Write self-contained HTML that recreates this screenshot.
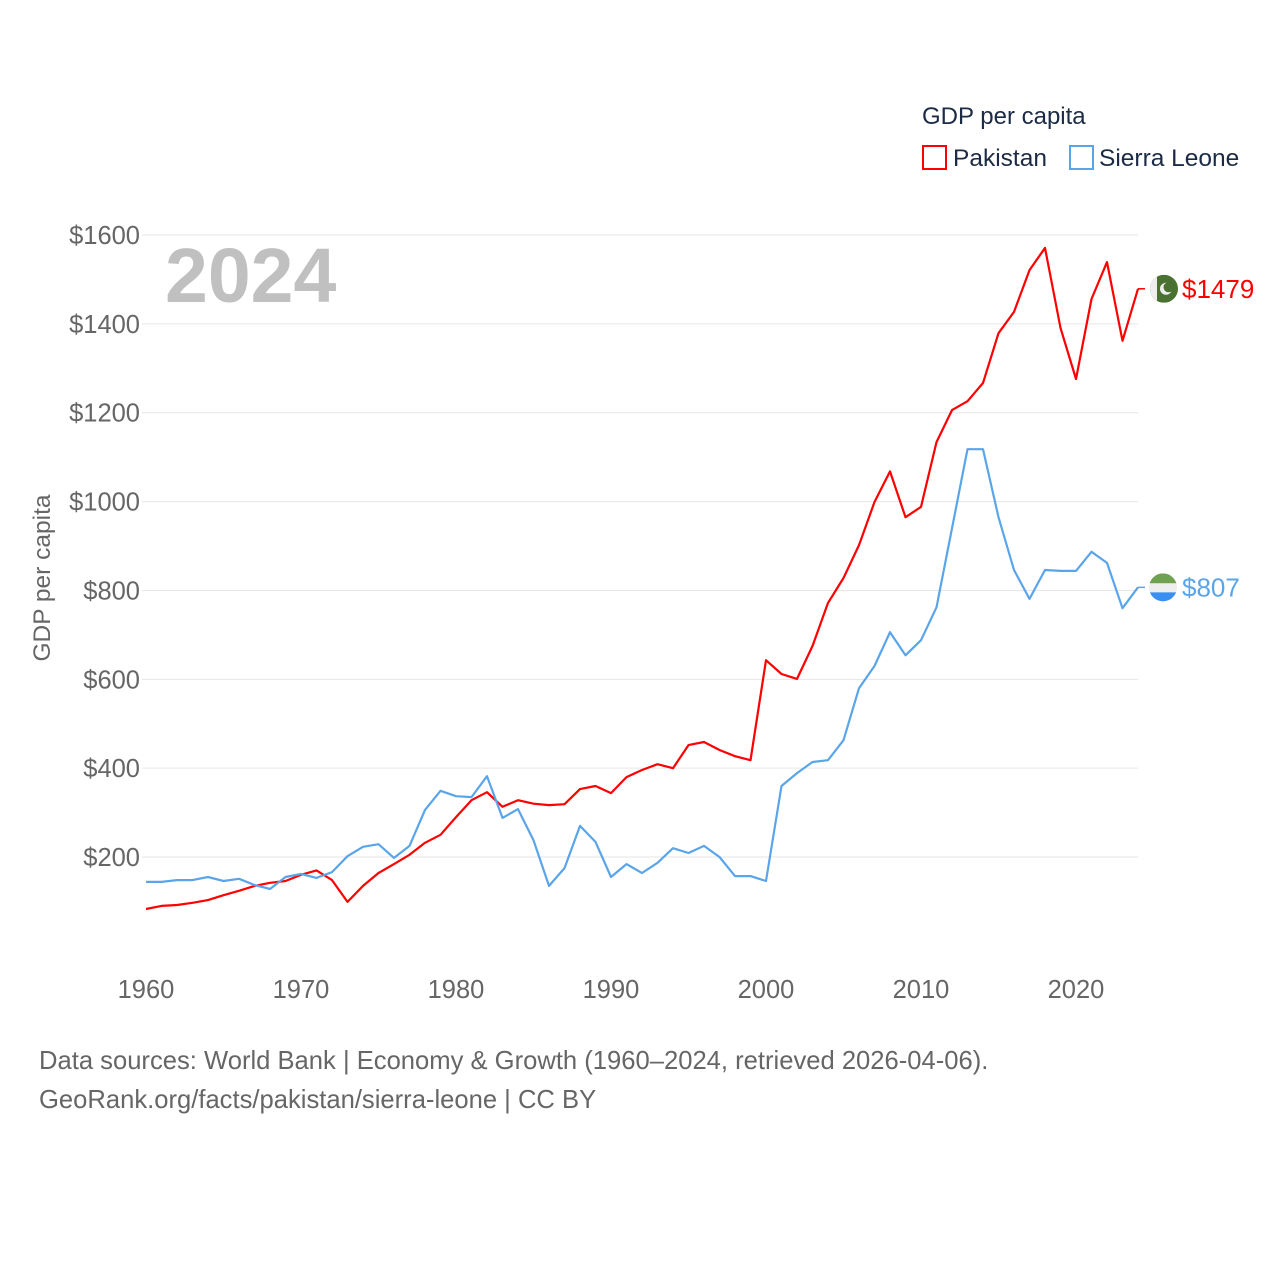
<!DOCTYPE html>
<html><head><meta charset="utf-8"><style>
body{margin:0;background:#fff;font-family:"Liberation Sans",sans-serif;}
svg text{font-family:"Liberation Sans",sans-serif;}
</style></head><body>
<svg id="chart" width="1280" height="1280" viewBox="0 0 1280 1280" xmlns="http://www.w3.org/2000/svg">
<rect width="1280" height="1280" fill="#fff"/>
<g id="grid"></g>
<g id="yticks"></g>
<g id="xticks"></g>
<text x="165" y="302" font-size="77" font-weight="bold" fill="#c0c0c0">2024</text>
<text transform="translate(50,578) rotate(-90)" text-anchor="middle" font-size="24.5" fill="#666">GDP per capita</text>
<g id="series"></g>
<g>
<text x="922" y="124" font-size="24" fill="#1c2b45">GDP per capita</text>
<rect x="923" y="146" width="23" height="23" fill="none" stroke="#ff0000" stroke-width="2"/>
<text x="953" y="166" font-size="24.5" fill="#1c2b45">Pakistan</text>
<rect x="1070" y="146" width="23" height="23" fill="none" stroke="#5aa5ea" stroke-width="2"/>
<text x="1099" y="166" font-size="24.5" fill="#1c2b45">Sierra Leone</text>
</g>
<text x="39" y="1069" font-size="25.6" fill="#666">Data sources: World Bank | Economy &amp; Growth (1960–2024, retrieved 2026-04-06).</text>
<text x="39" y="1108" font-size="25.6" fill="#666">GeoRank.org/facts/pakistan/sierra-leone | CC BY</text>
</svg>
<script>
const years = [];
for (let y = 1960; y <= 2024; y++) years.push(y);
const pakistan = [83,90,92,97,103,114,124,135,142,146,160,170,148,99,135,164,184,205,232,250,290,328,346,313,328,320,317,319,353,360,344,380,396,409,400,452,459,441,427,418,643,612,601,675,772,828,902,999,1068,965,988,1134,1206,1226,1267,1379,1427,1521,1571,1391,1276,1456,1539,1362,1479];
const sierraLeone = [144,144,148,148,155,146,151,137,128,155,162,153,166,202,223,229,198,225,306,349,337,335,382,288,308,238,135,175,270,234,155,184,164,187,220,209,225,200,157,157,146,360,389,414,418,463,580,630,706,654,688,762,940,1118,1118,965,846,781,846,844,844,887,862,760,807];
const yTicks = [200,400,600,800,1000,1200,1400,1600];
const xTicks = [1960,1970,1980,1990,2000,2010,2020];
const NS = "http://www.w3.org/2000/svg";
function xs(yr){return 146 + (yr-1960)*15.5;}
function ys(v){return 945.9 - v*0.4443;}
function mk(tag, attrs, parent){const e=document.createElementNS(NS,tag);for(const k in attrs)e.setAttribute(k,attrs[k]);parent.appendChild(e);return e;}
const grid=document.getElementById('grid'), yt=document.getElementById('yticks'), xt=document.getElementById('xticks'), ser=document.getElementById('series');
yTicks.forEach(v=>{
  const l=mk('line',{x1:142,x2:1138,y1:ys(v),y2:ys(v),stroke:'#e6e6e6','stroke-width':1},grid);
  
  
  const t=mk('text',{x:140,y:ys(v)+9,'text-anchor':'end','font-size':25.5,fill:'#666'},yt);
  t.textContent='$'+v;
  
  
});
xTicks.forEach(yr=>{
  const t=mk('text',{x:xs(yr),y:998,'text-anchor':'middle','font-size':25.5,fill:'#666'},xt);
  t.textContent=yr;
  
  
});
function drawSeries(vals,color,name){
  const d=vals.map((v,i)=>(i?'L':'M')+xs(years[i]).toFixed(1)+','+ys(v).toFixed(1)).join('');
  const p=mk('path',{d:d,fill:'none',stroke:color,'stroke-width':2.2,'stroke-linejoin':'round'},ser);
  
  
  const last=vals[vals.length-1], ly=ys(last), lx=xs(years[years.length-1]);
  const s=mk('line',{x1:lx,x2:lx+7,y1:ly,y2:ly,stroke:color,'stroke-width':1.5},ser);
  
  
  return {lx:lx,ly:ly,last:last};
}
const pk=drawSeries(pakistan,'#ff0000','pakistan');
const sl=drawSeries(sierraLeone,'#5aa5ea','sierra-leone');
const fp=mk('g',{},ser);


const cp1=mk('clipPath',{id:'cp1'},fp);
mk('circle',{cx:1164,cy:pk.ly,r:14},cp1);
const g1=mk('g',{'clip-path':'url(#cp1)'},fp);
mk('rect',{x:1150,y:pk.ly-14,width:28,height:28,fill:'#4a7032'},g1);
mk('rect',{x:1150,y:pk.ly-14,width:7,height:28,fill:'#eeeeee'},g1);
mk('circle',{cx:1166,cy:pk.ly,r:6,fill:'#eee'},g1);
mk('circle',{cx:1168.5,cy:pk.ly-1.5,r:5,fill:'#4a7032'},g1);
const fs=mk('g',{},ser);


const cp2=mk('clipPath',{id:'cp2'},fs);
mk('circle',{cx:1163,cy:sl.ly,r:14},cp2);
const g2=mk('g',{'clip-path':'url(#cp2)'},fs);
mk('rect',{x:1149,y:sl.ly-14,width:28,height:10,fill:'#6fa150'},g2);
mk('rect',{x:1149,y:sl.ly-4,width:28,height:9,fill:'#eeeeee'},g2);
mk('rect',{x:1149,y:sl.ly+5,width:28,height:10,fill:'#3a8ff0'},g2);
const t1=mk('text',{x:1182,y:pk.ly+9,'font-size':26,fill:'#ff0000'},ser);
t1.textContent='$'+pk.last;


const t2=mk('text',{x:1182,y:sl.ly+9,'font-size':26,fill:'#5aa5ea'},ser);
t2.textContent='$'+sl.last;


</script>
</body></html>
